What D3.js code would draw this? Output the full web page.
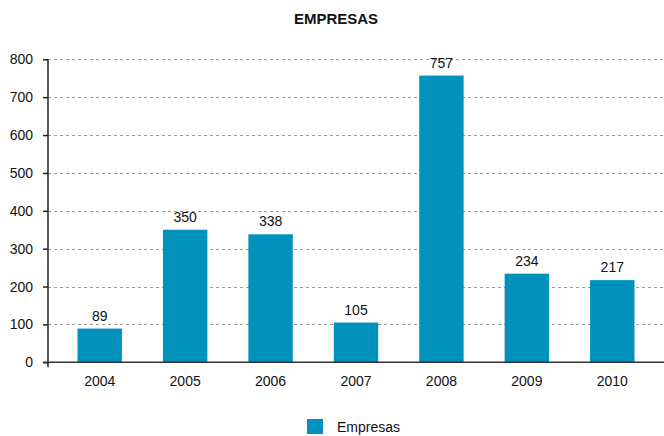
<!DOCTYPE html>
<html>
<head>
<meta charset="utf-8">
<script src="https://cdn.jsdelivr.net/npm/d3@7"></script>
<style>
  html, body { margin: 0; padding: 0; background: #fff; }
  svg { display: block; font-family: "Liberation Sans", Arial, sans-serif; }
</style>
</head>
<body>
<svg id="chart" width="664" height="436"></svg>
<script>
// Companies per year
const years = ["2004", "2005", "2006", "2007", "2008", "2009", "2010"];
const empresas = [89, 350, 338, 105, 757, 234, 217];
const yTicks = [0, 100, 200, 300, 400, 500, 600, 700, 800];
const seriesName = "Empresas";
const chartTitle = "EMPRESAS";

const svg = d3.select("#chart");
const barColor = "#0092bc";
const axisX = 48, plotRight = 664, yTop = 59.3, yBottom = 362.3;

const y = d3.scaleLinear().domain([0, 800]).range([yBottom, yTop]);
const x = d3.scaleBand().domain(years).range([57, 655]).paddingInner(0.48).paddingOuter(0.24);

// title
svg.append("text")
  .attr("x", 336).attr("y", 23.5)
  .attr("text-anchor", "middle")
  .attr("font-size", 15).attr("font-weight", "bold").attr("fill", "#111")
  .text(chartTitle);

// dashed gridlines
svg.append("g").selectAll("line")
  .data(yTicks.filter(d => d > 0))
  .join("line")
  .attr("x1", axisX).attr("x2", plotRight)
  .attr("y1", d => Math.round(y(d)) + 0.5).attr("y2", d => Math.round(y(d)) + 0.5)
  .attr("stroke", "#9a9a9a").attr("stroke-width", 1)
  .attr("stroke-dasharray", "3,3");

// bars
svg.append("g").selectAll("rect")
  .data(years.map((yr, i) => ({ yr, v: empresas[i] })))
  .join("rect")
  .attr("x", d => x(d.yr)).attr("width", x.bandwidth())
  .attr("y", d => y(d.v)).attr("height", d => yBottom - y(d.v))
  .attr("fill", barColor);

// value labels
svg.append("g").selectAll("text")
  .data(years.map((yr, i) => ({ yr, v: empresas[i] })))
  .join("text")
  .attr("x", d => x(d.yr) + x.bandwidth() / 2)
  .attr("y", d => y(d.v) - 8)
  .attr("text-anchor", "middle")
  .attr("font-size", 14).attr("fill", "#111")
  .text(d => d.v);

// y axis
const yAxis = svg.append("g")
  .attr("transform", `translate(${axisX},0)`)
  .call(d3.axisLeft(y).tickValues(yTicks).tickSize(5).tickPadding(10).tickFormat(d3.format("d")));
yAxis.select(".domain").remove();
yAxis.selectAll(".tick line").attr("stroke", "#222").attr("stroke-width", 1.5);
yAxis.selectAll(".tick text").attr("font-size", 14).attr("fill", "#111")
  .attr("font-family", "'Liberation Sans', Arial, sans-serif");
svg.append("line")
  .attr("x1", axisX).attr("x2", axisX)
  .attr("y1", yTop).attr("y2", yBottom + 5)
  .attr("stroke", "#222").attr("stroke-width", 1.5);

// x axis
const xAxis = svg.append("g")
  .attr("transform", `translate(0,${yBottom})`)
  .call(d3.axisBottom(x).tickSize(0).tickPadding(14));
xAxis.select(".domain").remove();
xAxis.selectAll(".tick text").attr("font-size", 14).attr("fill", "#111")
  .attr("font-family", "'Liberation Sans', Arial, sans-serif");
svg.append("line")
  .attr("x1", axisX - 5).attr("x2", plotRight)
  .attr("y1", yBottom).attr("y2", yBottom)
  .attr("stroke", "#333").attr("stroke-width", 1.5);

// legend
const legend = svg.append("g").attr("transform", "translate(307,419)");
legend.append("rect").attr("width", 16).attr("height", 15).attr("fill", barColor);
legend.append("text")
  .attr("x", 30).attr("y", 13)
  .attr("font-size", 14).attr("fill", "#111")
  .text(seriesName);
</script>
</body>
</html>
